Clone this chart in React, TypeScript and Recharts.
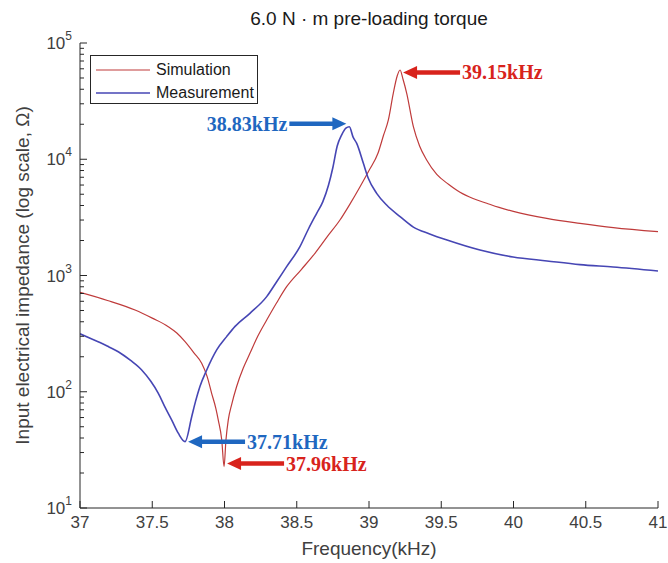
import React from 'react';
import { LineChart, Line, XAxis, YAxis, ReferenceDot, Legend } from 'recharts';

// ---------------- data ----------------
const simFreq = [37.0, 37.19, 37.381, 37.5, 37.611, 37.67, 37.727, 37.79, 37.842, 37.88, 37.911, 37.94, 37.957, 37.981, 37.997, 38.01, 38.026, 38.05, 38.084, 38.13, 38.176, 38.23, 38.292, 38.36, 38.43, 38.53, 38.626, 38.71, 38.799, 38.87, 38.938, 39.0, 39.062, 39.1, 39.134, 39.168, 39.195, 39.215, 39.235, 39.261, 39.307, 39.35, 39.399, 39.469, 39.55, 39.63, 39.72, 39.815, 39.9, 39.999, 40.23, 40.46, 40.691, 41.0];
const simZ = [715, 610, 505, 430, 363, 320, 270, 215, 176, 135, 97, 72, 57, 38.5, 22.7, 38.5, 57, 78, 111, 160, 214, 300, 414, 580, 801, 1120, 1553, 2150, 3000, 4150, 5800, 8000, 11250, 16000, 21800, 36900, 52000, 58600, 49000, 36900, 19050, 13000, 9860, 7400, 6100, 5200, 4600, 4180, 3850, 3560, 3100, 2810, 2580, 2380];

const measFreq = [37.0, 37.07, 37.138, 37.2, 37.265, 37.35, 37.427, 37.49, 37.542, 37.59, 37.635, 37.68, 37.727, 37.773, 37.8, 37.83, 37.877, 37.946, 38.015, 38.073, 38.176, 38.292, 38.36, 38.43, 38.522, 38.58, 38.638, 38.68, 38.72, 38.75, 38.78, 38.811, 38.84, 38.864, 38.89, 38.915, 38.961, 38.995, 39.053, 39.122, 39.215, 39.307, 39.42, 39.54, 39.768, 39.997, 40.232, 40.46, 40.689, 41.0];
const measZ = [315, 288, 265, 243, 221, 186, 154, 123, 97, 73, 57, 44, 37.2, 61, 83, 111, 154, 229, 298, 365, 473, 658, 880, 1191, 1770, 2500, 3430, 4300, 6000, 8500, 13000, 16200, 18500, 19050, 15500, 13700, 9230, 6860, 5090, 4040, 3210, 2610, 2280, 2020, 1657, 1443, 1334, 1240, 1183, 1093];

const seriesNames = ['Simulation', 'Measurement'];

const xTicks = [37, 37.5, 38, 38.5, 39, 39.5, 40, 40.5, 41];
const yMajorTicks = [10, 100, 1000, 10000, 100000];
const yMinorTicks = [20, 30, 40, 50, 60, 70, 80, 90, 200, 300, 400, 500, 600, 700, 800, 900, 2000, 3000, 4000, 5000, 6000, 7000, 8000, 9000, 20000, 30000, 40000, 50000, 60000, 70000, 80000, 90000];

const annoLabels = ['39.15kHz', '38.83kHz', '37.71kHz', '37.96kHz'];
const annoFreq = [39.215, 38.864, 37.727, 37.997];
const annoZ = [58600, 19050, 37.2, 22.7];
const annoSeries = ['sim', 'meas', 'meas', 'sim'];
const annoTextSide = ['right', 'left', 'right', 'right'];

const titleText = '6.0 N \u00b7 m pre-loading torque';
const xLabelText = 'Frequency(kHz)';
const yLabelText = 'Input electrical impedance (log scale, \u03a9)';

// ---------------- style ----------------
const FONT = '"Liberation Sans", Arial, Helvetica, sans-serif';
const SERIF = '"Liberation Serif", "Times New Roman", serif';
const AXIS_COLOR = '#262626';
const TEXT_COLOR = '#404040';
const SIM_COLOR = '#bf3b3b';
const MEAS_COLOR = '#4646b4';
const ANNO_RED = '#d8231c';
const ANNO_BLUE = '#1f67c0';
const annoDy = [2.5, -3, 0, -3];

const simData = simFreq.map((f, i) => ({ f, z: simZ[i] }));
const measData = measFreq.map((f, i) => ({ f, z: measZ[i] }));
const yAllTicks = [...yMajorTicks, ...yMinorTicks].sort((a, b) => a - b);

const LeftTick = (props: any) => {
  const { x, y, payload } = props;
  const v = payload.value;
  const major = yMajorTicks.includes(v);
  const exp = Math.round(Math.log10(v));
  return (
    <g>
      <line x1={x} x2={x + (major ? 7 : 4)} y1={y} y2={y} stroke={AXIS_COLOR} strokeWidth={1} />
      {major && (
        <text x={x - 8} y={y} dy={6} textAnchor="end" fill={TEXT_COLOR} fontSize={17} fontFamily={FONT}>
          10<tspan dy={-9} fontSize={12}>{exp}</tspan>
        </text>
      )}
    </g>
  );
};

const RightTick = (props: any) => {
  const { x, y, payload } = props;
  const major = yMajorTicks.includes(payload.value);
  return <line x1={x} x2={x - (major ? 7 : 4)} y1={y} y2={y} stroke={AXIS_COLOR} strokeWidth={1} />;
};

const BottomTick = (props: any) => {
  const { x, y, payload } = props;
  return (
    <g>
      <line x1={x} x2={x} y1={y} y2={y - 7} stroke={AXIS_COLOR} strokeWidth={1} />
      <text x={x} y={y + 20} textAnchor="middle" fill={TEXT_COLOR} fontSize={17} fontFamily={FONT}>
        {String(payload.value)}
      </text>
    </g>
  );
};

const TopTick = (props: any) => {
  const { x, y } = props;
  return <line x1={x} x2={x} y1={y} y2={y + 7} stroke={AXIS_COLOR} strokeWidth={1} />;
};

const makeArrow = (i: number) => (props: any) => {
  const { cx, cy } = props;
  if (cx == null || cy == null) return <g />;
  const color = annoSeries[i] === 'sim' ? ANNO_RED : ANNO_BLUE;
  const onRight = annoTextSide[i] === 'right';
  const dir = onRight ? 1 : -1;
  const tipX = cx + dir * 3;
  const y = cy + annoDy[i];
  const headLen = 14;
  const headHalf = 6.5;
  const shaftLen = 57;
  const baseX = tipX + dir * headLen;
  const tailX = tipX + dir * shaftLen;
  return (
    <g>
      <polygon points={`${tipX},${y} ${baseX},${y - headHalf} ${baseX},${y + headHalf}`} fill={color} />
      <line x1={baseX - dir} y1={y} x2={tailX} y2={y} stroke={color} strokeWidth={4.5} />
      <text
        x={tailX + dir * 2}
        y={y}
        dominantBaseline="central"
        textAnchor={onRight ? 'start' : 'end'}
        fill={color}
        fontSize={20}
        fontWeight="bold"
        fontFamily={SERIF}
      >
        {annoLabels[i]}
      </text>
    </g>
  );
};

const LegendBox = () => (
  <div
    style={{
      width: 168,
      height: 49,
      border: `1px solid ${AXIS_COLOR}`,
      background: '#fff',
      fontFamily: FONT,
      fontSize: 16,
      color: '#1a1a1a',
      position: 'relative',
      boxSizing: 'border-box',
    }}
  >
    {seriesNames.map((name, i) => (
      <div
        key={name}
        style={{ position: 'absolute', left: 4, top: i === 0 ? 4 : 27, height: 20, display: 'flex', alignItems: 'center' }}
      >
        <svg width={56} height={20}>
          <line x1={1} x2={55} y1={10} y2={10} stroke={i === 0 ? SIM_COLOR : MEAS_COLOR} strokeWidth={i === 0 ? 1.2 : 1.6} />
        </svg>
        <span style={{ marginLeft: 5, lineHeight: '20px' }}>{name}</span>
      </div>
    ))}
  </div>
);

export default function App() {
  return (
    <div style={{ position: 'absolute', left: 0, top: 0, width: 668, height: 563, background: '#fff' }}>
      <div
        style={{
          position: 'absolute',
          left: 80,
          width: 578,
          top: 8,
          lineHeight: '22px',
          textAlign: 'center',
          fontFamily: FONT,
          fontSize: 19,
          color: '#1a1a1a',
        }}
      >
        {titleText}
      </div>
      <LineChart width={668} height={563} margin={{ top: 43, right: 10, bottom: 0, left: 0 }}>
        <XAxis
          xAxisId="bottom"
          dataKey="f"
          type="number"
          domain={[37, 41]}
          allowDataOverflow
          ticks={xTicks}
          interval={0}
          orientation="bottom"
          height={55}
          tickSize={0}
          tickMargin={0}
          tickLine={false}
          stroke={AXIS_COLOR}
          tick={(p: any) => <BottomTick {...p} />}
          label={(p: any) => {
            const vb = p.viewBox;
            return (
              <text x={vb.x + vb.width / 2} y={vb.y + 47} textAnchor="middle" fill={TEXT_COLOR} fontSize={19} fontFamily={FONT}>
                {xLabelText}
              </text>
            );
          }}
        />
        <XAxis
          xAxisId="top"
          dataKey="f"
          type="number"
          domain={[37, 41]}
          allowDataOverflow
          ticks={xTicks}
          interval={0}
          orientation="top"
          height={0}
          tickSize={0}
          tickMargin={0}
          tickLine={false}
          stroke={AXIS_COLOR}
          tick={(p: any) => <TopTick {...p} />}
        />
        <YAxis
          yAxisId="main"
          scale="log"
          type="number"
          domain={[10, 100000]}
          allowDataOverflow
          ticks={yAllTicks}
          interval={0}
          width={80}
          tickSize={0}
          tickMargin={0}
          tickLine={false}
          stroke={AXIS_COLOR}
          tick={(p: any) => <LeftTick {...p} />}
          label={(p: any) => {
            const vb = p.viewBox;
            const cx = vb.x + 22;
            const cy = vb.y + vb.height / 2;
            return (
              <text
                x={cx}
                y={cy}
                transform={`rotate(-90 ${cx} ${cy})`}
                textAnchor="middle"
                dominantBaseline="central"
                fill={TEXT_COLOR}
                fontSize={19}
                fontFamily={FONT}
              >
                {yLabelText}
              </text>
            );
          }}
        />
        <YAxis
          yAxisId="right"
          orientation="right"
          scale="log"
          type="number"
          domain={[10, 100000]}
          allowDataOverflow
          ticks={yAllTicks}
          interval={0}
          width={0}
          tickSize={0}
          tickMargin={0}
          tickLine={false}
          stroke={AXIS_COLOR}
          tick={(p: any) => <RightTick {...p} />}
        />
        <Legend
          layout="horizontal"
          verticalAlign="middle"
          align="center"
          wrapperStyle={{ position: 'absolute', left: 90, top: 55, width: 170, height: 50 }}
          content={() => <LegendBox />}
        />
        <Line
          data={simData}
          xAxisId="bottom"
          yAxisId="main"
          dataKey="z"
          name={seriesNames[0]}
          type="monotone"
          stroke={SIM_COLOR}
          strokeWidth={1.2}
          dot={false}
          isAnimationActive={false}
        />
        <Line
          data={measData}
          xAxisId="bottom"
          yAxisId="main"
          dataKey="z"
          name={seriesNames[1]}
          type="monotone"
          stroke={MEAS_COLOR}
          strokeWidth={1.6}
          dot={false}
          isAnimationActive={false}
        />
        {annoLabels.map((lab, i) => (
          <ReferenceDot
            key={lab}
            xAxisId="bottom"
            yAxisId="main"
            x={annoFreq[i]}
            y={annoZ[i]}
            r={0}
            ifOverflow="visible"
            shape={makeArrow(i)}
          />
        ))}
      </LineChart>
    </div>
  );
}
